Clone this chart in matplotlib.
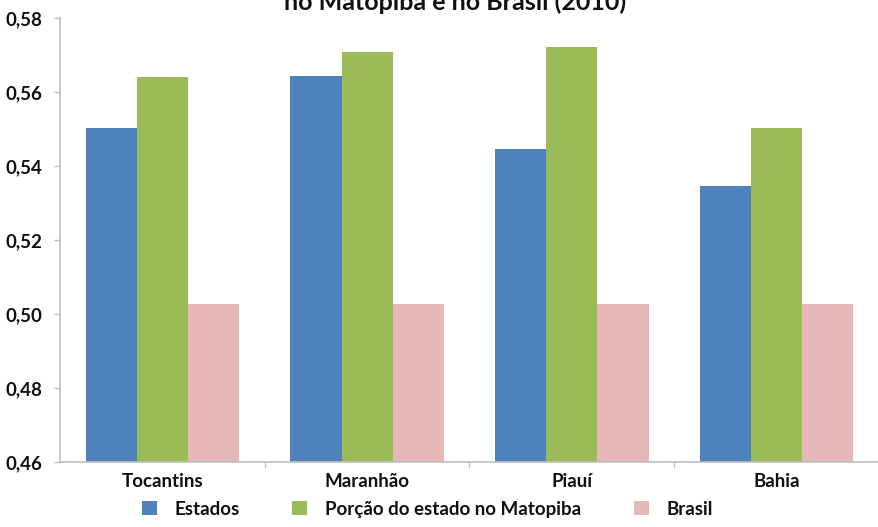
import numpy as np
import matplotlib
matplotlib.use("Agg")
import matplotlib.pyplot as plt
from matplotlib.ticker import FuncFormatter, FixedLocator

# Índice de Gini por estado, porção no Matopiba e Brasil (2010)
estados = ["Tocantins", "Maranhão", "Piauí", "Bahia"]
gini_estado = [0.5503, 0.5643, 0.5446, 0.5346]
gini_matopiba = [0.5640, 0.5708, 0.5722, 0.5502]
gini_brasil = [0.5027, 0.5027, 0.5027, 0.5027]
series_names = ["Estados", "Porção do estado no Matopiba", "Brasil"]
cores = ["#4F81BD", "#9BBB59", "#E6B9B8"]

plt.rcParams["font.family"] = ["Lato", "DejaVu Sans"]

fig = plt.figure(figsize=(8.79, 5.27), dpi=100)
ax = fig.add_axes([60 / 879, 1 - 462 / 527, 1 - 60 / 879, (462 - 18) / 527])

x = np.arange(len(estados))
w = 0.25
bars = []
for k, (vals, cor) in enumerate(zip([gini_estado, gini_matopiba, gini_brasil], cores)):
    b = ax.bar(x + (k - 1) * w, np.array(vals) - 0.46, width=w, bottom=0.46,
               color=cor, linewidth=0, label=series_names[k])
    bars.append(b)

ax.set_xlim(-0.5, len(estados) - 0.5)
ax.set_ylim(0.46, 0.58)
ax.set_yticks(np.arange(0.46, 0.5801, 0.02))
ax.yaxis.set_major_formatter(FuncFormatter(lambda v, p: f"{v:.2f}".replace(".", ",")))

ax.set_xticks(x)
ax.set_xticklabels(estados)
ax.xaxis.set_minor_locator(FixedLocator(np.arange(0.5, len(estados) - 0.5, 1)))
ax.tick_params(axis="x", which="major", length=0, pad=8)
ax.tick_params(axis="x", which="minor", length=4, color="#BFBFBF", width=1)
ax.tick_params(axis="y", length=4, color="#BFBFBF", width=1, pad=9)
for lab in ax.get_xticklabels() + ax.get_yticklabels():
    lab.set_fontsize(13.5)
    lab.set_fontweight("bold")
    lab.set_color("#111111")

for side in ["top", "right"]:
    ax.spines[side].set_visible(False)
for side in ["left", "bottom"]:
    ax.spines[side].set_color("#BFBFBF")
    ax.spines[side].set_linewidth(1.2)

# segunda linha do título (a primeira fica acima da área da figura)
fig.text(0.518, 1 - 14 / 527, "no Matopiba e no Brasil (2010)", ha="center", va="bottom",
         fontsize=18, fontweight="bold", color="#111111")

leg = fig.legend(handles=bars, loc="lower center", bbox_to_anchor=(0.486, -0.014), ncol=3,
                 frameon=False, fontsize=13.5, handlelength=0.8, handleheight=0.8,
                 handletextpad=0.95, columnspacing=2.8)
for t in leg.get_texts():
    t.set_fontweight("bold")
    t.set_color("#111111")

fig.savefig("out.png", dpi=100)
